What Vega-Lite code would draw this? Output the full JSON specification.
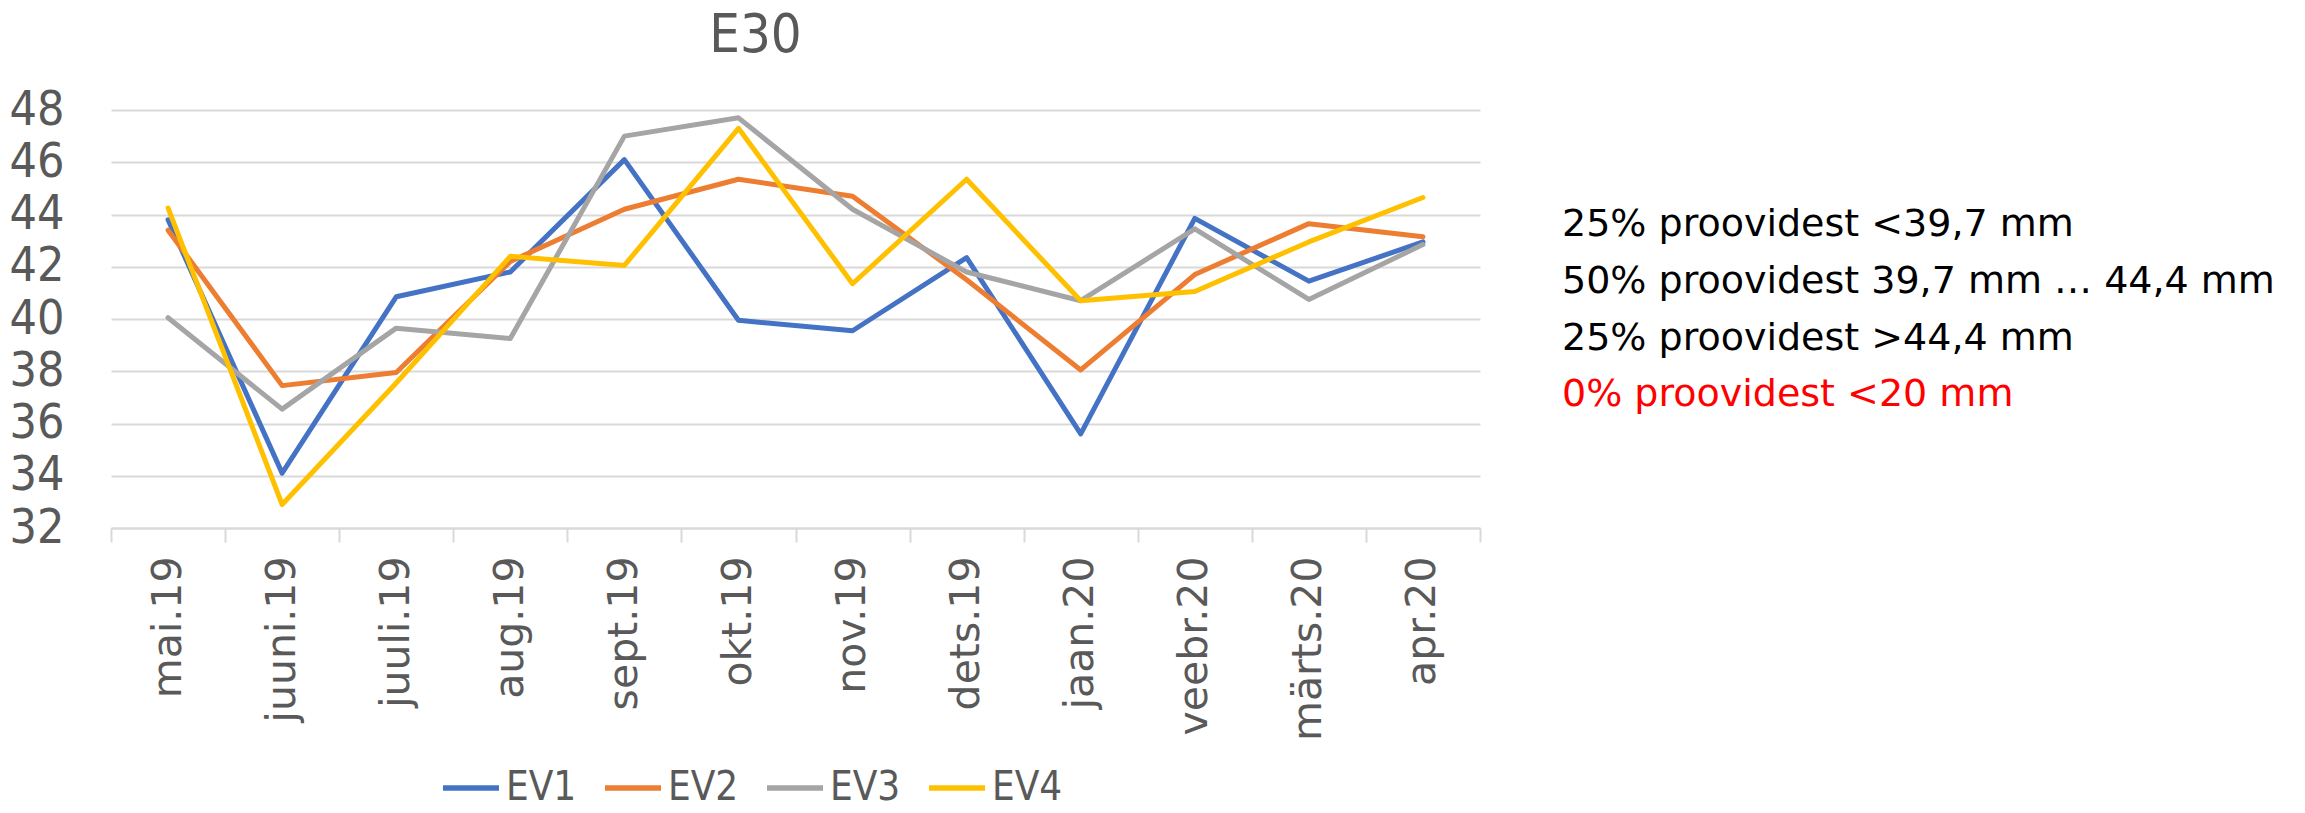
{
  "$schema": "https://vega.github.io/schema/vega-lite/v6.json",
  "padding": {"left": 9, "top": 9, "right": 0, "bottom": 0},
  "autosize": {"type": "pad"},
  "background": "white",
  "bounds": "flush",
  "spacing": 82,
  "resolve": {"scale": {"color": "independent"}, "legend": {"color": "independent"}},
  "datasets": {
    "mootmised": [
      {"kuu": "mai.19", "seeria": "EV1", "vaartus": 43.8},
      {"kuu": "juuni.19", "seeria": "EV1", "vaartus": 34.1},
      {"kuu": "juuli.19", "seeria": "EV1", "vaartus": 40.85},
      {"kuu": "aug.19", "seeria": "EV1", "vaartus": 41.8},
      {"kuu": "sept.19", "seeria": "EV1", "vaartus": 46.1},
      {"kuu": "okt.19", "seeria": "EV1", "vaartus": 39.95},
      {"kuu": "nov.19", "seeria": "EV1", "vaartus": 39.55},
      {"kuu": "dets.19", "seeria": "EV1", "vaartus": 42.35},
      {"kuu": "jaan.20", "seeria": "EV1", "vaartus": 35.6},
      {"kuu": "veebr.20", "seeria": "EV1", "vaartus": 43.85},
      {"kuu": "märts.20", "seeria": "EV1", "vaartus": 41.45},
      {"kuu": "apr.20", "seeria": "EV1", "vaartus": 42.95},
      {"kuu": "mai.19", "seeria": "EV2", "vaartus": 43.4},
      {"kuu": "juuni.19", "seeria": "EV2", "vaartus": 37.45},
      {"kuu": "juuli.19", "seeria": "EV2", "vaartus": 37.95},
      {"kuu": "aug.19", "seeria": "EV2", "vaartus": 42.2},
      {"kuu": "sept.19", "seeria": "EV2", "vaartus": 44.2},
      {"kuu": "okt.19", "seeria": "EV2", "vaartus": 45.35},
      {"kuu": "nov.19", "seeria": "EV2", "vaartus": 44.7},
      {"kuu": "dets.19", "seeria": "EV2", "vaartus": 41.5},
      {"kuu": "jaan.20", "seeria": "EV2", "vaartus": 38.05},
      {"kuu": "veebr.20", "seeria": "EV2", "vaartus": 41.7},
      {"kuu": "märts.20", "seeria": "EV2", "vaartus": 43.65},
      {"kuu": "apr.20", "seeria": "EV2", "vaartus": 43.15},
      {"kuu": "mai.19", "seeria": "EV3", "vaartus": 40.05},
      {"kuu": "juuni.19", "seeria": "EV3", "vaartus": 36.55},
      {"kuu": "juuli.19", "seeria": "EV3", "vaartus": 39.65},
      {"kuu": "aug.19", "seeria": "EV3", "vaartus": 39.25},
      {"kuu": "sept.19", "seeria": "EV3", "vaartus": 47.0},
      {"kuu": "okt.19", "seeria": "EV3", "vaartus": 47.7},
      {"kuu": "nov.19", "seeria": "EV3", "vaartus": 44.2},
      {"kuu": "dets.19", "seeria": "EV3", "vaartus": 41.8},
      {"kuu": "jaan.20", "seeria": "EV3", "vaartus": 40.7},
      {"kuu": "veebr.20", "seeria": "EV3", "vaartus": 43.45},
      {"kuu": "märts.20", "seeria": "EV3", "vaartus": 40.75},
      {"kuu": "apr.20", "seeria": "EV3", "vaartus": 42.85},
      {"kuu": "mai.19", "seeria": "EV4", "vaartus": 44.25},
      {"kuu": "juuni.19", "seeria": "EV4", "vaartus": 32.9},
      {"kuu": "juuli.19", "seeria": "EV4", "vaartus": 37.55},
      {"kuu": "aug.19", "seeria": "EV4", "vaartus": 42.4},
      {"kuu": "sept.19", "seeria": "EV4", "vaartus": 42.05},
      {"kuu": "okt.19", "seeria": "EV4", "vaartus": 47.3},
      {"kuu": "nov.19", "seeria": "EV4", "vaartus": 41.35},
      {"kuu": "dets.19", "seeria": "EV4", "vaartus": 45.35},
      {"kuu": "jaan.20", "seeria": "EV4", "vaartus": 40.7},
      {"kuu": "veebr.20", "seeria": "EV4", "vaartus": 41.05},
      {"kuu": "märts.20", "seeria": "EV4", "vaartus": 42.95},
      {"kuu": "apr.20", "seeria": "EV4", "vaartus": 44.65}
    ],
    "tekst": [
      {"rida": 1, "liik": "jaotus", "tekst": "25% proovidest <39,7 mm"},
      {"rida": 2, "liik": "jaotus", "tekst": "50% proovidest 39,7 mm … 44,4 mm"},
      {"rida": 3, "liik": "jaotus", "tekst": "25% proovidest >44,4 mm"},
      {"rida": 4, "liik": "alla 20 mm", "tekst": "0% proovidest <20 mm"}
    ]
  },
  "hconcat": [
    {
      "width": 1369,
      "height": 418,
      "title": {
        "text": "E30",
        "fontSize": 54,
        "font": "DejaVu Sans Condensed",
        "fontWeight": "normal",
        "color": "#595959",
        "dx": -40,
        "offset": -20,
        "baseline": "alphabetic"
      },
      "data": {"name": "mootmised"},
      "mark": {"type": "line", "strokeWidth": 5, "strokeCap": "round", "strokeJoin": "round"},
      "encoding": {
        "x": {
          "field": "kuu",
          "type": "ordinal",
          "sort": ["mai.19", "juuni.19", "juuli.19", "aug.19", "sept.19", "okt.19", "nov.19", "dets.19", "jaan.20", "veebr.20", "märts.20", "apr.20"],
          "scale": {"type": "band", "paddingInner": 0, "paddingOuter": 0},
          "title": null,
          "axis": {
            "labelAngle": -90,
            "labelFontSize": 41,
            "labelFont": "DejaVu Sans",
            "labelColor": "#595959",
            "labelPadding": 14,
            "labelLimit": 400,
            "tickBand": "extent",
            "tickSize": 14,
            "tickColor": "#d9d9d9",
            "tickWidth": 2,
            "domainColor": "#d9d9d9",
            "domainWidth": 2,
            "grid": false
          }
        },
        "y": {
          "field": "vaartus",
          "type": "quantitative",
          "scale": {"domain": [32, 48], "nice": false, "zero": false},
          "title": null,
          "axis": {
            "values": [32, 34, 36, 38, 40, 42, 44, 46, 48],
            "labelFontSize": 48,
            "labelFont": "DejaVu Sans Condensed",
            "labelColor": "#595959",
            "labelPadding": 47,
            "ticks": false,
            "domain": false,
            "grid": true,
            "gridColor": "#d9d9d9",
            "gridWidth": 2
          }
        },
        "color": {
          "field": "seeria",
          "type": "nominal",
          "scale": {"domain": ["EV1", "EV2", "EV3", "EV4"], "range": ["#4472c4", "#ed7d31", "#a5a5a5", "#ffc000"]},
          "legend": {
            "title": null,
            "orient": "none",
            "legendX": 329,
            "legendY": 647,
            "direction": "horizontal",
            "padding": 0,
            "labelFontSize": 40,
            "labelFont": "DejaVu Sans Condensed",
            "labelColor": "#595959",
            "symbolType": "stroke",
            "symbolSize": 3136,
            "symbolStrokeWidth": 5.5,
            "labelOffset": 4,
            "columnPadding": 17
          }
        }
      }
    },
    {
      "width": 720,
      "height": 418,
      "data": {"name": "tekst"},
      "mark": {"type": "text", "align": "left", "baseline": "middle", "fontSize": 38, "font": "DejaVu Sans"},
      "encoding": {
        "x": {"datum": 0, "type": "quantitative", "scale": {"domain": [0, 1]}, "axis": null},
        "y": {"field": "rida", "type": "quantitative", "scale": {"domain": [-1.03, 6.34], "reverse": true, "nice": false, "zero": false}, "axis": null},
        "text": {"field": "tekst"},
        "color": {
          "field": "liik",
          "type": "nominal",
          "scale": {"domain": ["jaotus", "alla 20 mm"], "range": ["#000000", "#ff0000"]},
          "legend": null
        }
      }
    }
  ],
  "config": {"view": {"stroke": null}}
}
